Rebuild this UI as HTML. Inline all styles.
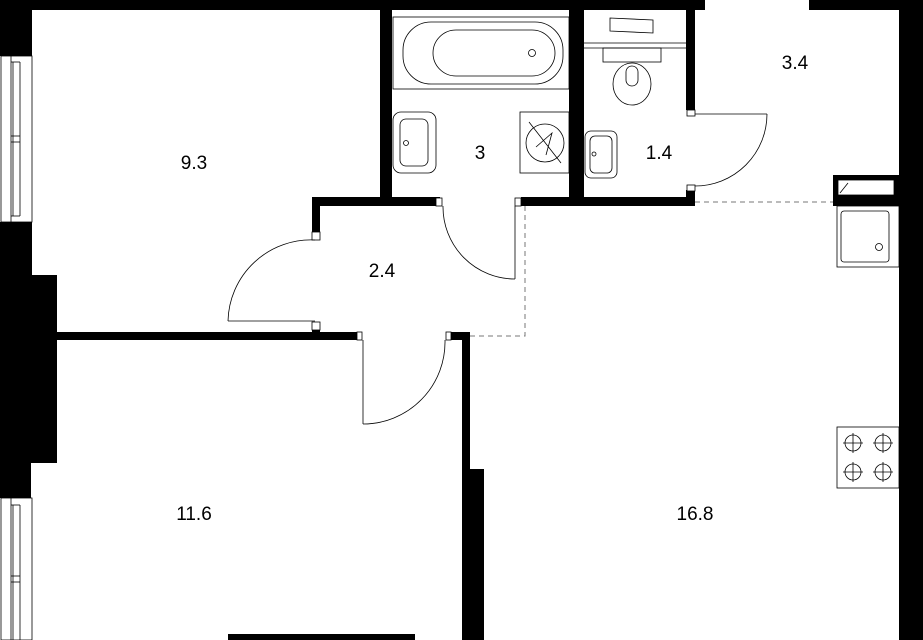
<!DOCTYPE html>
<html><head><meta charset="utf-8"><style>
html,body{margin:0;padding:0;background:#fff}
svg{display:block}
text{font-family:"Liberation Sans",sans-serif;font-size:19px;fill:#000;text-anchor:middle}
</style></head><body>
<svg width="923" height="640" viewBox="0 0 923 640" xmlns="http://www.w3.org/2000/svg">
<g fill="#000">
<!-- top walls -->
<rect x="0" y="0" width="705" height="10"/>
<rect x="809" y="0" width="114" height="10"/>
<!-- right wall -->
<rect x="899" y="0" width="24" height="640"/>
<!-- left walls -->
<rect x="0" y="0" width="32" height="56"/>
<rect x="0" y="222" width="32" height="53"/>
<rect x="0" y="275" width="57" height="188"/>
<rect x="0" y="463" width="31" height="35"/>
<!-- wall between 9.3 and 11.6 -->
<rect x="32" y="332" width="327" height="8"/>
<rect x="312" y="325" width="8" height="15"/>
<!-- corridor right wall / 16.8 left -->
<rect x="446" y="332" width="24" height="8"/>
<rect x="462" y="332" width="8" height="140"/>
<rect x="462" y="469" width="22" height="171"/>
<!-- bottom wall -->
<rect x="228" y="634" width="187" height="6"/>
<!-- 9.3 / bath wall -->
<rect x="380" y="10" width="12" height="196"/>
<rect x="312" y="197" width="128" height="9"/>
<rect x="312" y="197" width="8" height="42"/>
<!-- bath bottom right -->
<rect x="521" y="197" width="174" height="9"/>
<rect x="569" y="10" width="15" height="190"/>
<!-- WC right wall -->
<rect x="686" y="10" width="9" height="100"/>
<rect x="686" y="190" width="9" height="16"/>
<!-- fridge box -->
<rect x="833" y="175" width="66" height="31"/>
</g>
<g fill="#fff" stroke="#000" stroke-width="0.8">
<rect x="312" y="232" width="8" height="8"/>
<rect x="312" y="322" width="8" height="8"/>
<rect x="436" y="198" width="6" height="8"/>
<rect x="515" y="198" width="6" height="8"/>
<rect x="687" y="110" width="8" height="6"/>
<rect x="687" y="185" width="8" height="6"/>
<rect x="357" y="332" width="5" height="8"/>
<rect x="446" y="332" width="5" height="8"/>
<rect x="838" y="180" width="56" height="15"/>
</g>
<g fill="none" stroke="#000" stroke-width="0.8">
<!-- windows -->
<rect x="1" y="56" width="31" height="166"/>
<line x1="11" y1="56" x2="11" y2="222"/><line x1="13" y1="62" x2="13" y2="216"/><line x1="20" y1="62" x2="20" y2="216"/>
<line x1="11" y1="62" x2="20" y2="62"/><line x1="11" y1="216" x2="20" y2="216"/><line x1="11" y1="136" x2="20" y2="136"/><line x1="11" y1="142" x2="20" y2="142"/>
<rect x="1" y="498" width="31" height="142"/>
<line x1="11" y1="498" x2="11" y2="640"/><line x1="13" y1="505" x2="13" y2="640"/><line x1="20" y1="505" x2="20" y2="640"/>
<line x1="11" y1="505" x2="20" y2="505"/><line x1="11" y1="576" x2="20" y2="576"/><line x1="11" y1="582" x2="20" y2="582"/>
<!-- doors -->
<line x1="228" y1="321" x2="315" y2="321"/><path d="M315 240 A83 83 0 0 0 228 321"/>
<line x1="515" y1="206" x2="515" y2="279"/><path d="M443 206 A72 72 0 0 0 515 279"/>
<line x1="695" y1="114" x2="767" y2="114"/><path d="M767 114 A72 72 0 0 1 695 186"/>
<line x1="363" y1="340" x2="363" y2="424"/><path d="M363 424 A82 82 0 0 0 445 340"/>
<!-- bathtub -->
<rect x="393" y="17" width="176" height="72"/>
<rect x="403" y="22" width="160" height="62" rx="28"/>
<rect x="433" y="30" width="122" height="46" rx="23"/>
<circle cx="532" cy="53" r="3.5"/>
<!-- bath sink -->
<rect x="393" y="112" width="43" height="61" rx="8"/>
<rect x="400" y="119" width="28" height="47" rx="6"/>
<circle cx="406" cy="143" r="2.5"/>
<!-- washer -->
<rect x="520" y="112" width="49" height="61"/>
<circle cx="545" cy="143" r="19"/>
<path d="M529 122 L561 163 M536 147 L552 133 L546 155"/>
<!-- WC -->
<line x1="584" y1="43" x2="686" y2="43"/><line x1="584" y1="48" x2="686" y2="48"/>
<path d="M610 18 L653 20 L653 33 L610 31 Z"/>
<rect x="603" y="48" width="58" height="14"/>
<ellipse cx="632" cy="84" rx="19" ry="21"/>
<rect x="626" y="66" width="12" height="20" rx="6"/>
<!-- WC sink -->
<rect x="585" y="131" width="32" height="47" rx="6"/>
<rect x="590" y="136" width="22" height="37" rx="5"/>
<circle cx="594" cy="154" r="2"/>
<!-- fridge interior line -->
<path d="M840 193 L848 183"/>
<!-- kitchen sink -->
<rect x="837" y="206" width="62" height="61"/>
<rect x="841" y="211" width="48" height="51" rx="3"/>
<circle cx="879" cy="247" r="3.5"/>
<!-- stove -->
<rect x="837" y="427" width="62" height="61"/>
<circle cx="853" cy="443" r="8"/><circle cx="883" cy="443" r="8"/>
<circle cx="853" cy="472" r="8"/><circle cx="883" cy="472" r="8"/>
<path d="M853 433V453M843 443H863M883 433V453M873 443H893M853 462V482M843 472H863M883 462V482M873 472H893"/>
</g>
<g fill="none" stroke="#777" stroke-width="1" stroke-dasharray="5 4">
<path d="M695 202 H833"/>
<path d="M525 206 V336 H470"/>
</g>
<text x="194" y="169">9.3</text>
<text x="480" y="159">3</text>
<text x="659" y="159">1.4</text>
<text x="795" y="69">3.4</text>
<text x="382" y="277">2.4</text>
<text x="194" y="520">11.6</text>
<text x="695" y="520">16.8</text>
</svg>
</body></html>
